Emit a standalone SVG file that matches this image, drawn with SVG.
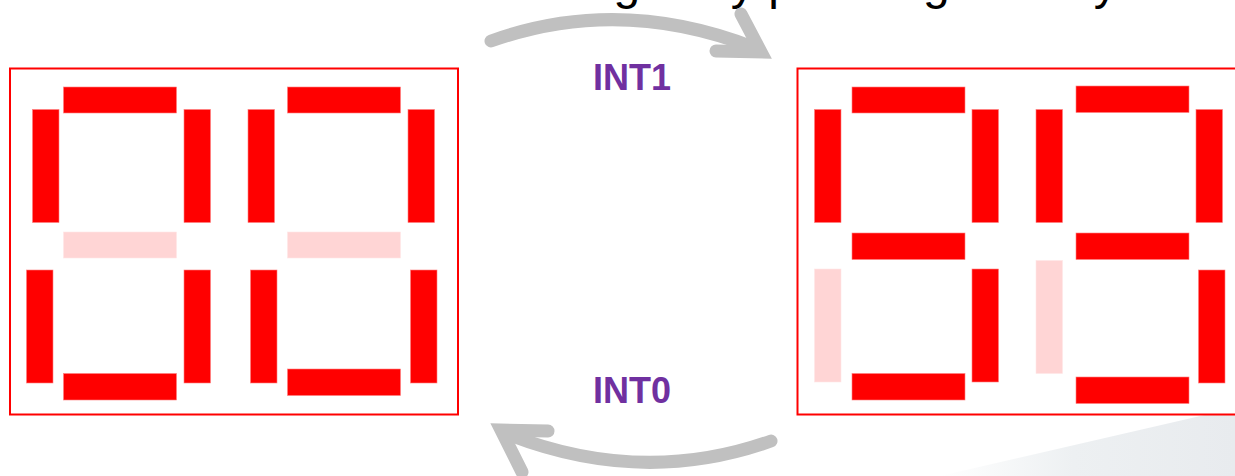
<svg xmlns="http://www.w3.org/2000/svg" width="1235" height="476" viewBox="0 0 1235 476">
  <defs>
    <linearGradient id="wedgeFill" x1="940" y1="0" x2="1235" y2="0" gradientUnits="userSpaceOnUse">
      <stop offset="0" stop-color="#ffffff"/>
      <stop offset="0.45" stop-color="#edf0f2"/>
      <stop offset="1" stop-color="#e8ebee"/>
    </linearGradient>
  </defs>
  <style>
    .panel { fill: #ffffff; stroke: #ff0000; stroke-width: 2; }
    .on { fill: #ff0000; stroke: #ff7f7f; stroke-width: 0.6; }
    .off { fill: #ffd5d5; stroke: #ffe6e6; stroke-width: 0.6; }
    .arrow { fill: none; stroke: #c0c0c0; stroke-width: 13; stroke-linecap: round; stroke-linejoin: miter; stroke-miterlimit: 10; }
    .label { font-family: "Liberation Sans", Arial, sans-serif; font-weight: bold; font-size: 36px; fill: #7030a0; }
    .caption { font-family: "Liberation Sans", Arial, sans-serif; font-size: 48px; fill: #000000; }
  </style>

  <rect width="1235" height="476" fill="#ffffff"/>
  <!-- soft grey corner wedge -->
  <polygon points="940,476 1235,408 1235,476" fill="url(#wedgeFill)"/>

  <!-- caption line, mostly above the top edge -->
  <text class="caption" y="-1"><tspan x="434.7">Switching</tspan><tspan x="666.8">only pressing the key</tspan></text>

  <!-- left display: 00 -->
  <g id="display-left">
    <rect class="panel" x="10" y="68.5" width="448" height="346"/>
    <g id="left-digit-1">
      <rect class="on" x="63.5" y="87" width="113" height="26"/>
      <rect class="on" x="32.5" y="109.5" width="26.5" height="113"/>
      <rect class="on" x="184" y="109.5" width="26.5" height="113"/>
      <rect class="off" x="63.5" y="232" width="113" height="26"/>
      <rect class="on" x="26.5" y="270" width="26.5" height="113"/>
      <rect class="on" x="184" y="270" width="26.5" height="113"/>
      <rect class="on" x="63.5" y="373.5" width="113" height="26.5"/>
    </g>
    <g id="left-digit-2">
      <rect class="on" x="287.5" y="87" width="113" height="26"/>
      <rect class="on" x="248" y="109.5" width="26.5" height="113"/>
      <rect class="on" x="408" y="109.5" width="26.5" height="113"/>
      <rect class="off" x="287.5" y="232" width="113" height="26"/>
      <rect class="on" x="250.5" y="270" width="26.5" height="113"/>
      <rect class="on" x="410.5" y="270" width="26.5" height="113"/>
      <rect class="on" x="287.5" y="369" width="113" height="26.5"/>
    </g>
  </g>

  <!-- right display: 99 -->
  <g id="display-right">
    <rect class="panel" x="797.5" y="68.5" width="450" height="346"/>
    <g id="right-digit-1">
      <rect class="on" x="852" y="87" width="113" height="26"/>
      <rect class="on" x="814.5" y="109.5" width="26.5" height="113"/>
      <rect class="on" x="972" y="109.5" width="26.5" height="113"/>
      <rect class="on" x="852" y="233" width="113" height="26.5"/>
      <rect class="off" x="814.5" y="269" width="26.5" height="113"/>
      <rect class="on" x="972" y="269" width="26.5" height="113"/>
      <rect class="on" x="852" y="373.5" width="113" height="26.5"/>
    </g>
    <g id="right-digit-2">
      <rect class="on" x="1076" y="86" width="113" height="26.5"/>
      <rect class="on" x="1036" y="109.5" width="26.5" height="113"/>
      <rect class="on" x="1196" y="109.5" width="26.5" height="113"/>
      <rect class="on" x="1076" y="233" width="113" height="26.5"/>
      <rect class="off" x="1036" y="260.5" width="26.5" height="113"/>
      <rect class="on" x="1198.5" y="270" width="26.5" height="113"/>
      <rect class="on" x="1076" y="377" width="113" height="26.5"/>
    </g>
  </g>

  <!-- transitions between the two displays -->
  <g id="connectors">
    <g id="int1-arrow">
      <path class="arrow" d="M 491 41 Q 620 -5 755 48"/>
      <path class="arrow" d="M 741 14 L 761 52 L 716 51"/>
    </g>
    <g id="int0-arrow">
      <path class="arrow" d="M 771 441 Q 642 487 507 434"/>
      <path class="arrow" d="M 522 472 L 501 430 L 548 431"/>
    </g>
  </g>

  <g id="label-int1">
    <text class="label" x="593" y="90">INT1</text>
  </g>
  <g id="label-int0">
    <text class="label" x="593" y="403">INT0</text>
  </g>
</svg>
